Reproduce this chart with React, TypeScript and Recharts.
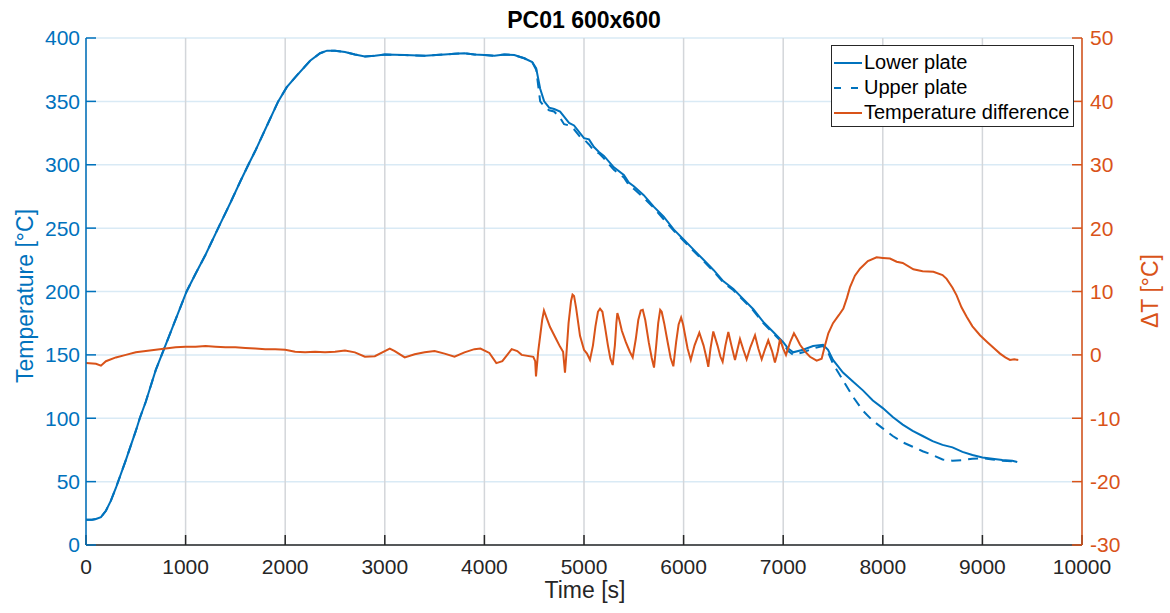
import React from 'react';
import { ComposedChart, Line, XAxis, YAxis, CartesianGrid, Legend } from 'recharts';

// MATLAB default palette
const BLUE = '#0072BD';
const ORANGE = '#D95319';
const AXIS_GRAY = '#262626';
const FONT = '"Liberation Sans", Arial, Helvetica, sans-serif';

const timeTicks = [0, 1000, 2000, 3000, 4000, 5000, 6000, 7000, 8000, 9000, 10000];
const tempTicks = [0, 50, 100, 150, 200, 250, 300, 350, 400];
const deltaTicks = [-30, -20, -10, 0, 10, 20, 30, 40, 50];

// plate temperatures [°C] sampled at timeTemp [s]
const timeTemp = [
  0, 60, 100, 150, 200, 250, 300, 400, 500, 540,
  600, 700, 760, 850, 1010, 1100, 1200, 1345, 1450, 1550,
  1630, 1700, 1800, 1930, 2014, 2100, 2250, 2350, 2420, 2500,
  2600, 2700, 2800, 2900, 3000, 3200, 3400, 3600, 3700, 3800,
  3900, 4000, 4100, 4200, 4300, 4400, 4480, 4520, 4560, 4600,
  4650, 4700, 4760, 4800, 4850, 4900, 4960, 5000, 5050, 5100,
  5150, 5200, 5300, 5400, 5450, 5500, 5600, 5700, 5800, 5900,
  6000, 6100, 6200, 6300, 6400, 6500, 6600, 6700, 6800, 6900,
  7000, 7050, 7100, 7200, 7300, 7400, 7450, 7500, 7600, 7700,
  7800, 7900, 8000, 8100, 8200, 8300, 8400, 8500, 8600, 8700,
  8800, 8900, 9000, 9100, 9200, 9300, 9350,
];

const lowerPlate = [
  20, 20, 20.5, 22, 27, 35, 45, 67, 90, 100,
  113, 138, 150, 168, 200, 214, 229, 253, 270, 287,
  300, 311, 328, 350, 361, 369, 382, 388, 390, 390,
  389, 387, 385.5, 386, 387, 386.5, 386, 387, 387.5, 388,
  387, 386.5, 386, 387, 386.5, 384, 381, 376, 360, 350,
  345, 344, 342, 338, 333, 331, 325, 321, 320, 314,
  310, 307, 298, 292, 286, 283, 276, 267, 259, 249,
  241, 233, 225, 217, 208, 202, 194, 186, 176, 168,
  160, 155, 152, 154, 157, 158, 154, 146, 136, 129,
  122, 114, 108, 101, 95, 90, 86, 82, 79, 77,
  73.5, 71, 69, 68, 67, 66.5, 65.5,
];

const upperPlate = [
  20, 20, 20.5, 22, 27, 35, 45, 67, 90, 100,
  113, 138, 150, 168, 200, 214, 229, 253, 270, 287,
  300, 311, 328, 350, 361, 369, 382, 388, 390, 390,
  389, 387, 385.5, 386, 387, 386.5, 386, 387, 387.5, 388,
  387, 386.5, 386, 387, 386.5, 384, 381, 375, 350, 346,
  343, 342, 337, 332, 331, 328, 322, 320, 316, 311,
  309, 305, 296, 290, 284, 281, 274, 266, 257, 248,
  240, 232, 224, 216, 207, 201, 193, 185, 175, 167,
  159, 153, 150, 152, 155, 157, 152, 143, 130, 117,
  106, 98, 92, 86, 81, 77.5, 74, 71, 67.5, 66.5,
  67, 68, 68.5, 67.5, 66.5, 66, 65.5,
];

// lower - upper difference [°C] sampled at timeDelta [s]
const timeDelta = [
  0, 100, 150, 200, 300, 400, 500, 600, 700, 800,
  900, 1000, 1100, 1200, 1300, 1400, 1500, 1600, 1700, 1800,
  1900, 2000, 2100, 2200, 2300, 2400, 2500, 2600, 2700, 2800,
  2900, 3000, 3050, 3100, 3200, 3300, 3400, 3500, 3600, 3700,
  3800, 3900, 3960, 4050, 4120, 4180, 4274, 4330, 4374, 4491,
  4510, 4518, 4540, 4580, 4598, 4630, 4659, 4720, 4759, 4790,
  4809, 4825, 4845, 4870, 4885, 4900, 4920, 4960, 5000, 5030,
  5060, 5090, 5115, 5140, 5161, 5185, 5210, 5240, 5265, 5288,
  5310, 5325, 5335, 5350, 5380, 5420, 5460, 5489, 5520, 5545,
  5570, 5590, 5615, 5650, 5680, 5703, 5725, 5745, 5765, 5780,
  5805, 5840, 5870, 5897, 5925, 5950, 5975, 5995, 6040, 6072,
  6110, 6158, 6200, 6230, 6248, 6270, 6298, 6340, 6370,
  6392, 6420, 6449, 6480, 6516, 6540, 6566, 6600, 6633, 6670,
  6717, 6750, 6784, 6820, 6850, 6890, 6917, 6945, 6968, 7000,
  7028, 7070, 7108, 7140, 7169, 7220, 7269, 7336, 7386, 7420,
  7453, 7500, 7560, 7604, 7640, 7671, 7720, 7771, 7850, 7938,
  8000, 8072, 8139, 8200, 8307, 8400, 8508, 8600, 8641, 8700,
  8741, 8790, 8842, 8900, 8976, 9050, 9120, 9177, 9230, 9277,
  9320, 9360,
];

const deltaT = [
  -1.3, -1.4, -1.7, -1.0, -0.4, 0.0, 0.4, 0.6, 0.8, 1.0,
  1.2, 1.3, 1.3, 1.4, 1.3, 1.2, 1.2, 1.1, 1.0, 0.9,
  0.9, 0.8, 0.5, 0.4, 0.5, 0.4, 0.5, 0.7, 0.4, -0.3,
  -0.2, 0.6, 1.0, 0.6, -0.4, 0.1, 0.4, 0.6, 0.2, -0.3,
  0.4, 0.9, 1.0, 0.3, -1.3, -1.0, 0.9, 0.6, 0.0, -0.3,
  -1.0, -3.4, 0.5, 5.5, 7.0, 5.6, 4.4, 2.5, 1.3, 0.5,
  -2.8, 0.5, 5.0, 8.5, 9.5, 9.3, 7.5, 3.0, 0.8, 0.2,
  -0.8, 1.5, 4.5, 6.8, 7.3, 6.8, 4.5, 1.5, -0.6, -1.6,
  1.5, 5.0, 6.6, 5.8, 3.8, 2.0, 0.5, -0.4, 2.5, 5.5,
  7.0, 7.1, 5.5, 2.0, -0.5, -2.0, 1.5, 5.0, 7.1, 6.8,
  5.0, 2.0, -0.5, -1.8, 2.0, 4.8, 5.9, 4.8, 1.0, -0.8,
  1.5, 3.5, 1.5, -0.5, -1.9, 1.0, 3.7, 1.5, -0.3,
  -1.1, 1.5, 3.6, 1.5, -0.8, 0.8, 2.5, 0.8, -0.7, 1.2,
  3.1, 1.0, -0.7, 1.0, 2.3, 0.5, -1.2, 0.5, 2.5, 1.0,
  0.0, 2.0, 3.4, 2.5, 1.6, 0.5, -0.3, -0.9, -0.6, 1.5,
  3.4, 5.0, 6.3, 7.3, 9.0, 10.7, 12.5, 13.6, 14.8, 15.4,
  15.3, 15.2, 14.7, 14.5, 13.5, 13.2, 13.1, 12.6, 12.0, 10.6,
  9.4, 7.5, 6.0, 4.5, 3.1, 2.0, 1.0, 0.2, -0.4, -0.8,
  -0.7, -0.8,
];

const legendItems = [
  { label: 'Lower plate', color: BLUE, dash: undefined },
  { label: 'Upper plate', color: BLUE, dash: '7 10' },
  { label: 'Temperature difference', color: ORANGE, dash: undefined },
];

const lowerRows = timeTemp.map((t, i) => ({ t, lower: lowerPlate[i] }));
const upperRows = timeTemp.map((t, i) => ({ t, upper: upperPlate[i] }));
const deltaRows = timeDelta.map((t, i) => ({ t, delta: deltaT[i] }));

const PlateLegend = () => (
  <div
    style={{
      width: 243,
      height: 82,
      boxSizing: 'border-box',
      border: `1px solid ${AXIS_GRAY}`,
      background: '#fff',
      fontFamily: FONT,
      fontSize: 20,
      color: '#000',
      paddingTop: 4,
    }}
  >
    {legendItems.map((item) => (
      <div key={item.label} style={{ display: 'flex', alignItems: 'center', height: 25 }}>
        <svg width={30} height={10} style={{ marginLeft: 1 }}>
          <line x1={1} x2={29} y1={5} y2={5} stroke={item.color} strokeWidth={2} strokeDasharray={item.dash} />
        </svg>
        <span style={{ marginLeft: 1, lineHeight: '25px', whiteSpace: 'nowrap' }}>{item.label}</span>
      </div>
    ))}
  </div>
);

const App: React.FC = () => {
  const tickFont = { fontSize: 21, fontFamily: FONT };

  return (
    <div style={{ position: 'absolute', left: 0, top: 0, width: 1170, height: 613, background: '#fff' }}>
      <ComposedChart width={1170} height={613} margin={{ top: 38, right: 0, bottom: 0, left: 0 }}>
        <CartesianGrid yAxisId="left" vertical={false} stroke="#d9eaf5" strokeWidth={1.5} />
        <CartesianGrid yAxisId="left" horizontal={false} stroke="#d3d6da" strokeWidth={1.5} />
        <XAxis
          dataKey="t"
          type="number"
          domain={[0, 10000]}
          ticks={timeTicks}
          interval={0}
          height={68}
          stroke={AXIS_GRAY}
          axisLine={{ stroke: AXIS_GRAY, strokeWidth: 1.5 }}
          tickLine={{ stroke: AXIS_GRAY, strokeWidth: 1.5 }}
          tickSize={-10}
          tickMargin={24}
          tick={{ ...tickFont, fill: AXIS_GRAY }}
          allowDataOverflow
        />
        <YAxis
          yAxisId="left"
          type="number"
          domain={[0, 400]}
          ticks={tempTicks}
          interval={0}
          width={86}
          stroke={BLUE}
          axisLine={{ stroke: BLUE, strokeWidth: 1.5 }}
          tickLine={{ stroke: BLUE, strokeWidth: 1.5 }}
          tickSize={-10}
          tickMargin={16}
          tick={{ ...tickFont, fill: BLUE }}
          allowDataOverflow
        />
        <YAxis
          yAxisId="right"
          orientation="right"
          type="number"
          domain={[-30, 50]}
          ticks={deltaTicks}
          interval={0}
          width={88}
          stroke={ORANGE}
          axisLine={{ stroke: ORANGE, strokeWidth: 1.5 }}
          tickLine={{ stroke: ORANGE, strokeWidth: 1.5 }}
          tickSize={-10}
          tickMargin={18}
          tick={{ ...tickFont, fill: ORANGE }}
          allowDataOverflow
        />
        <Line
          yAxisId="left"
          data={lowerRows}
          dataKey="lower"
          type="linear"
          stroke={BLUE}
          strokeWidth={2}
          dot={false}
          activeDot={false}
          isAnimationActive={false}
        />
        <Line
          yAxisId="left"
          data={upperRows}
          dataKey="upper"
          type="linear"
          stroke={BLUE}
          strokeWidth={2}
          strokeDasharray="10 7"
          dot={false}
          activeDot={false}
          isAnimationActive={false}
        />
        <Line
          yAxisId="right"
          data={deltaRows}
          dataKey="delta"
          type="linear"
          stroke={ORANGE}
          strokeWidth={2}
          dot={false}
          activeDot={false}
          isAnimationActive={false}
        />
        <Legend
          layout="vertical"
          align="center"
          verticalAlign="middle"
          content={() => <PlateLegend />}
          wrapperStyle={{ left: 831, top: 45, width: 243, height: 82 }}
        />
      </ComposedChart>

      {/* title and axis captions */}
      <svg
        width={1170}
        height={613}
        style={{ position: 'absolute', left: 0, top: 0, pointerEvents: 'none' }}
        fontFamily={FONT}
      >
        <text x={584} y={28} textAnchor="middle" fontSize={23} fontWeight="bold" fill="#000">
          PC01 600x600
        </text>
        <text x={585} y={598} textAnchor="middle" fontSize={23} fill={AXIS_GRAY}>
          Time [s]
        </text>
        <text x={33} y={296} textAnchor="middle" fontSize={23} fill={BLUE} transform="rotate(-90, 33, 296)">
          Temperature [°C]
        </text>
        <text x={1158} y={291} textAnchor="middle" fontSize={23} fill={ORANGE} transform="rotate(-90, 1158, 291)">
          ΔT [°C]
        </text>
      </svg>
    </div>
  );
};

export default App;
